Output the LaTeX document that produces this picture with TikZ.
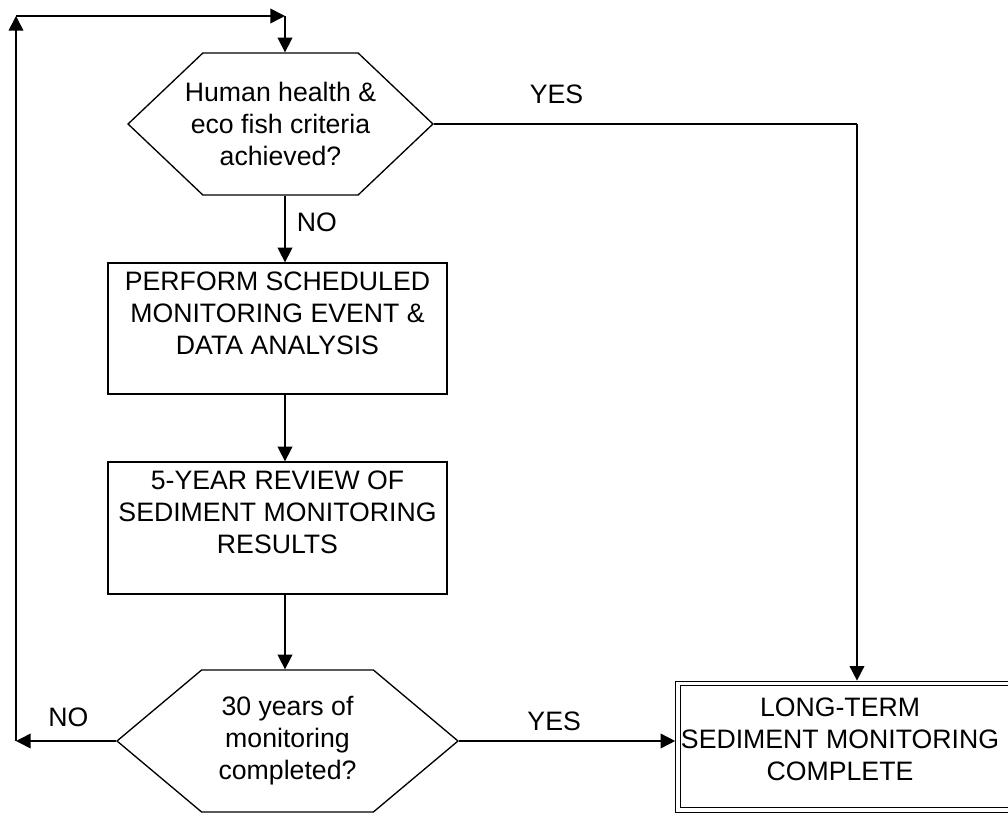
\documentclass[tikz,border=0pt]{standalone}
\usepackage{fontspec}
\setmainfont{Liberation Sans}
\usetikzlibrary{arrows.meta,shapes.symbols}

\tikzset{
  decision/.style={signal, signal to=west and east, draw, line width=1pt, align=center, inner ysep=0pt},
  stepbox/.style={rectangle, draw, line width=1pt},
  endbox/.style={rectangle, draw, double, line width=0.9pt, double distance=2.5pt, outer sep=2.1pt},
  boxtext/.style={anchor=north, align=center, yshift=-3pt},
}

\begin{document}
\begin{tikzpicture}[x=0.75pt,y=-0.75pt,line width=1.2pt,
    >={Triangle[length=11pt,width=11pt]},
    every node/.style={font=\fontsize{20}{24}\selectfont}]
  \useasboundingbox (0,0) rectangle (1008,813);
  \clip (0,0) rectangle (1008,813);

  \node [decision, signal pointer angle=87, inner xsep=-13.5pt, minimum height=106.5pt] (q1) at (280.5,124)
    {Human health \&\\eco fish criteria\\achieved?};
  \node [stepbox, minimum width=254.25pt, minimum height=98.25pt,
    label={[boxtext]north:{PERFORM SCHEDULED\\MONITORING EVENT \&\\DATA ANALYSIS}}] (perform) at (277.5,328.5) {};
  \node [stepbox, minimum width=254.25pt, minimum height=99pt,
    label={[boxtext]north:{5-YEAR REVIEW OF\\SEDIMENT MONITORING\\RESULTS}}] (review) at (277.5,528) {};
  \node [decision, signal pointer angle=80, inner xsep=0pt, minimum width=255.75pt, minimum height=106.5pt] (q2) at (287.5,741)
    {30 years of\\monitoring\\completed?};
  \node [endbox, minimum width=315pt, minimum height=95pt,
    label={[boxtext,xshift=-36pt,yshift=-6pt]north:{LONG-TERM\\SEDIMENT MONITORING\\COMPLETE}}] (done) at (888,746.8) {};

  \coordinate (lt) at (16,16);
  \coordinate (rt) at (285,16);
  \coordinate (yc) at (857,124);

  % loop back
  \draw[->] (q2.west) -- node [above=6.5pt,pos=0.475] {NO} (q2.west -| lt);
  \draw[->] (q2.west -| lt) -- (lt);
  \draw[->] (lt) -- (rt);
  \draw[->] (rt) -- (rt |- q1.north);

  \draw[->] (rt |- q1.south) -- node [right=5pt,pos=0.4] {NO} (rt |- perform.north);
  \draw[->] (rt |- perform.south) -- (rt |- review.north);
  \draw[->] (rt |- review.south) -- (rt |- q2.north);

  \draw (q1.east) -- node [above=11.5pt,pos=0.29] {YES} (yc);
  \draw[->] (yc) -- (yc |- done.north);
  \draw[->] (q2.east) -- node [above=3.5pt,pos=0.44] {YES} (q2.east -| done.west);
\end{tikzpicture}
\end{document}
